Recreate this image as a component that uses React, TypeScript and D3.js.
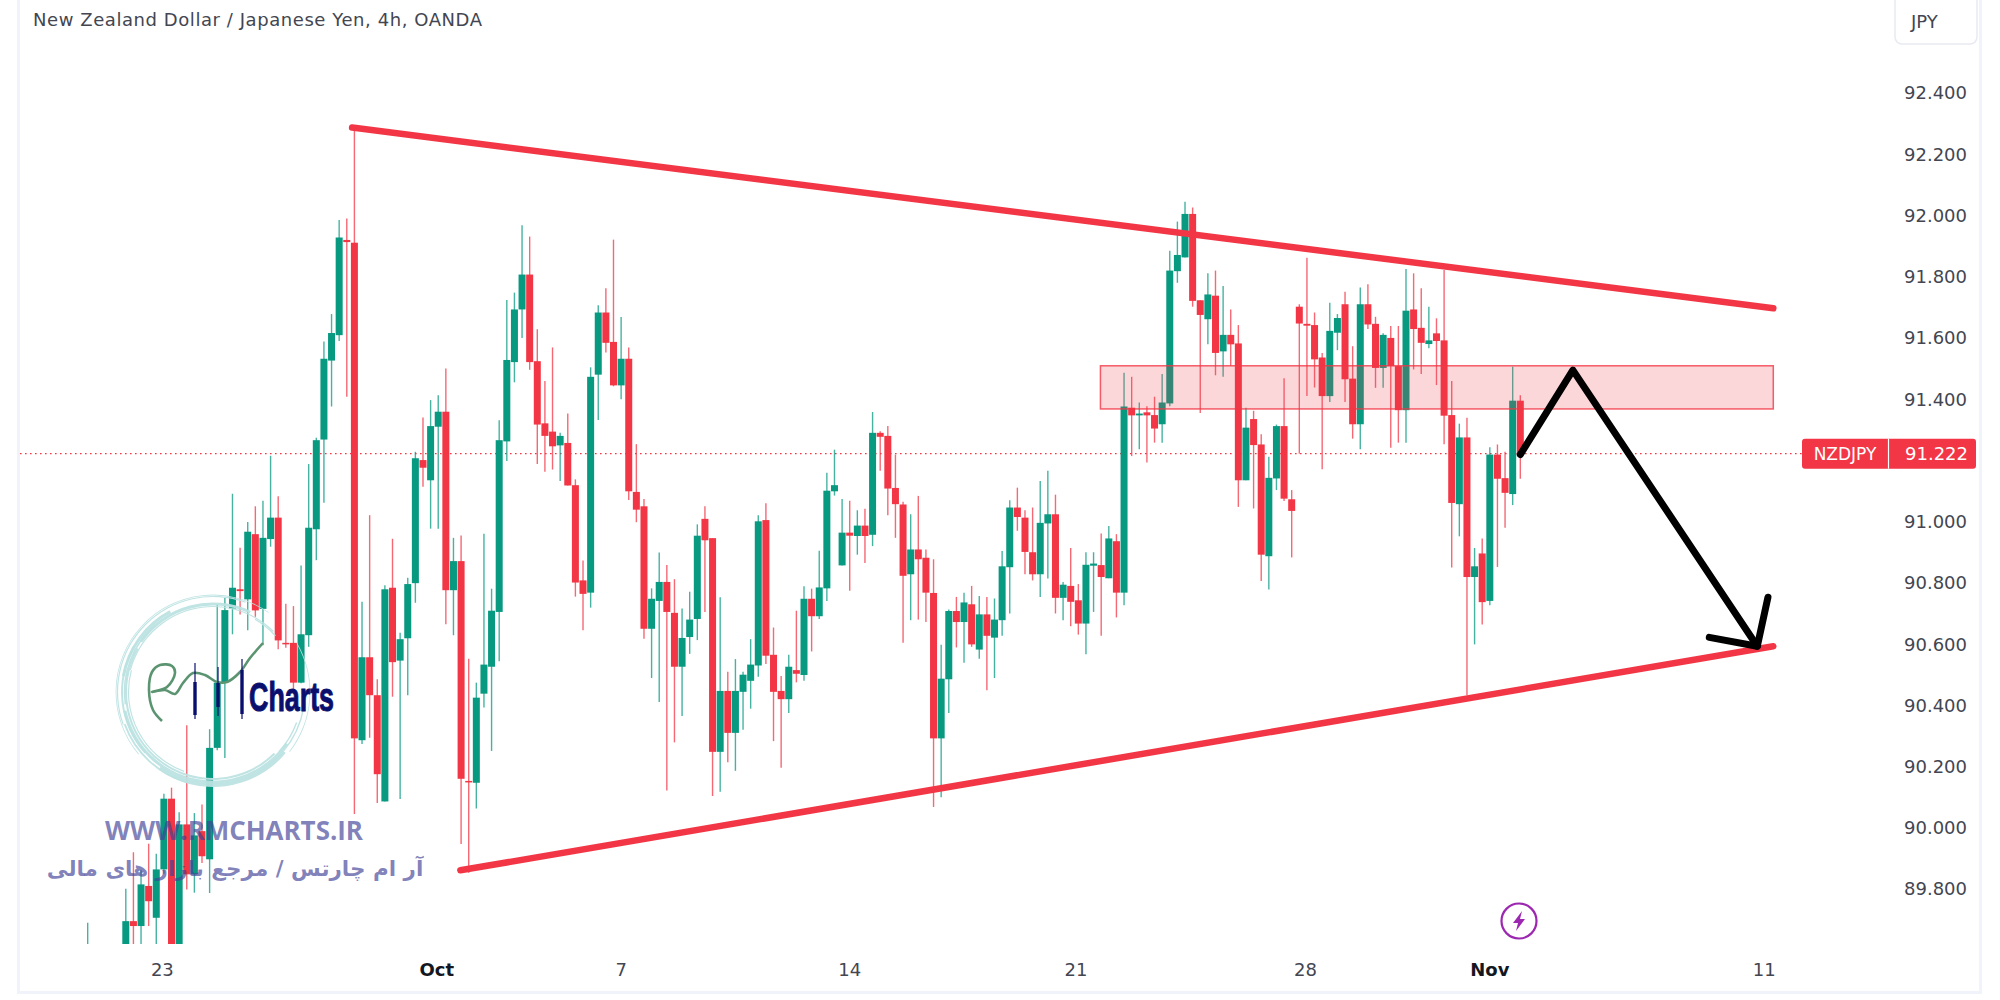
import * as d3 from 'd3';
import React, { useRef, useEffect } from 'react';

const width = 2000;
const height = 1000;

const red = '#F23645';
const green = '#089981';
const axisFont = '"DejaVu Sans", sans-serif';

// 4h candles, oldest first (first few sit below the visible pane)
const opens = [
  89.50,89.40,89.45,89.38,89.42,89.55,89.695,89.679,89.810,89.706,
  89.864,90.095,89.55,90.011,89.848,89.989,89.897,90.261,90.474,90.716,
  90.779,90.746,90.959,90.715,90.943,91.013,90.604,90.604,90.474,90.629,
  90.975,91.268,91.526,91.609,91.920,91.911,90.286,90.557,90.433,90.086,
  90.784,90.546,90.619,90.799,91.201,91.135,91.310,91.359,90.776,90.871,
  90.153,90.147,90.438,90.526,90.705,91.262,91.521,91.693,91.807,91.524,
  91.321,91.294,91.249,91.257,91.119,90.808,90.768,91.480,91.683,91.587,
  91.445,91.532,91.097,91.050,90.650,90.741,90.803,90.702,90.526,90.623,
  90.682,91.009,90.946,90.248,90.447,90.310,90.444,90.480,90.530,91.005,
  90.565,90.447,90.420,90.515,90.499,90.748,90.691,90.782,91.099,90.857,
  90.964,90.953,90.987,90.957,91.290,91.280,91.110,91.056,90.828,90.909,
  90.882,90.767,90.292,90.485,90.708,90.672,90.730,90.582,90.697,90.621,
  90.678,90.851,91.046,91.013,90.900,90.828,90.994,91.024,90.751,90.790,
  90.743,90.667,90.856,90.858,90.815,90.936,90.768,91.372,91.347,91.357,
  91.348,91.318,91.386,91.818,91.863,92.005,91.723,91.661,91.738,91.556,
  91.610,91.582,91.135,91.335,91.252,90.887,91.141,91.312,91.073,91.702,
  91.646,91.642,91.536,91.410,91.617,91.710,91.467,91.318,91.710,91.646,
  91.502,91.600,91.508,91.364,91.693,91.633,91.580,91.615,91.592,91.348,
  91.057,91.275,90.819,90.896,90.741,91.219,91.142,91.090,91.395,
];
const highs = [
  89.69,89.52,89.55,89.50,89.56,89.801,89.920,89.861,89.948,89.915,
  90.111,90.131,90.051,90.335,90.048,90.076,90.322,90.730,90.751,91.091,
  90.915,90.999,91.050,91.068,91.215,91.083,90.732,90.724,90.857,91.188,
  91.274,91.588,91.678,91.985,91.990,92.289,90.738,91.021,90.485,90.792,
  90.944,90.637,90.817,91.228,91.340,91.397,91.413,91.500,90.947,90.955,
  90.552,90.474,90.960,90.781,91.331,91.724,91.748,91.968,91.931,91.628,
  91.459,91.569,91.290,91.353,91.138,90.873,91.504,91.707,91.762,91.921,
  91.668,91.569,91.253,91.074,90.782,90.899,90.858,90.812,90.716,90.771,
  90.991,91.050,90.946,90.753,90.510,90.551,90.510,90.616,91.021,91.060,
  90.654,90.496,90.565,90.709,90.789,90.781,90.905,91.160,91.235,91.074,
  91.068,91.037,91.042,91.358,91.295,91.312,91.219,91.065,91.024,91.084,
  90.909,90.877,90.598,90.713,90.754,90.768,90.790,90.757,90.754,90.749,
  90.904,91.070,91.111,91.037,91.046,91.133,91.166,91.088,90.803,90.914,
  90.796,90.900,90.900,90.961,90.986,90.959,91.486,91.473,91.389,91.377,
  91.408,91.482,91.885,91.980,92.045,92.026,91.723,91.811,91.820,91.770,
  91.693,91.642,91.372,91.362,91.285,91.212,91.317,91.468,91.103,91.710,
  91.862,91.683,91.551,91.715,91.678,91.751,91.573,91.765,91.775,91.669,
  91.615,91.639,91.639,91.825,91.811,91.762,91.702,91.664,91.822,91.459,
  91.320,91.339,90.914,90.945,91.243,91.252,91.228,91.506,91.413,
];
const lows = [
  89.45,89.30,89.35,89.30,89.35,89.50,89.55,89.55,89.679,89.55,
  89.85,89.50,89.50,89.798,89.788,89.885,89.787,90.253,90.228,90.632,
  90.697,90.645,90.689,90.596,90.918,90.583,90.588,90.449,90.472,90.591,
  90.874,91.062,91.376,91.590,91.408,90.045,90.274,90.294,90.081,90.086,
  90.428,90.094,90.433,90.735,91.114,90.977,90.977,90.665,90.629,89.947,
  89.853,90.063,90.393,90.251,90.544,91.198,91.455,91.600,91.496,91.188,
  91.163,91.170,91.133,91.118,90.755,90.645,90.719,91.332,91.552,91.442,
  91.400,91.071,90.998,90.617,90.489,90.411,90.122,90.279,90.365,90.568,
  90.613,90.705,90.104,90.118,90.214,90.186,90.320,90.389,90.493,90.535,
  90.283,90.196,90.375,90.475,90.480,90.576,90.682,90.741,91.085,90.857,
  90.774,90.892,90.865,90.920,91.166,91.021,90.947,90.604,90.678,90.680,
  90.672,90.068,90.100,90.375,90.589,90.539,90.591,90.552,90.449,90.489,
  90.627,90.700,90.970,90.828,90.808,90.754,90.814,90.700,90.678,90.658,
  90.631,90.567,90.705,90.627,90.815,90.687,90.727,91.214,91.236,91.193,
  91.258,91.258,91.377,91.780,91.863,91.702,91.355,91.579,91.478,91.473,
  91.509,91.048,91.135,91.043,90.806,90.778,91.103,91.067,90.883,91.222,
  91.410,91.438,91.171,91.391,91.560,91.391,91.271,91.236,91.629,91.437,
  91.437,91.241,91.258,91.258,91.497,91.482,91.566,91.446,91.253,90.850,
  90.952,90.433,90.599,90.664,90.727,90.852,90.980,91.054,91.140,
];
const closes = [
  89.55,89.45,89.38,89.42,89.50,89.695,89.679,89.815,89.760,89.864,
  90.095,89.55,90.011,89.848,89.975,89.907,90.261,90.474,90.711,90.784,
  90.773,90.967,90.710,90.947,91.013,90.612,90.600,90.474,90.632,90.980,
  91.266,91.532,91.616,91.928,91.913,90.292,90.557,90.433,90.175,90.779,
  90.541,90.616,90.796,91.207,91.176,91.312,91.359,90.776,90.871,90.160,
  90.150,90.425,90.533,90.709,91.266,91.528,91.693,91.807,91.521,91.317,
  91.280,91.246,91.280,91.118,90.801,90.764,91.473,91.683,91.584,91.445,
  91.532,91.099,91.039,90.650,90.748,90.803,90.705,90.526,90.620,90.680,
  90.954,90.939,90.248,90.447,90.310,90.447,90.500,90.533,91.001,90.562,
  90.444,90.420,90.526,90.503,90.748,90.691,90.785,91.101,91.119,90.964,
  90.954,90.987,90.953,91.290,91.277,91.108,91.057,90.823,90.909,90.877,
  90.768,90.292,90.487,90.708,90.672,90.736,90.599,90.697,90.627,90.680,
  90.854,91.046,91.015,90.901,90.828,90.996,91.024,90.751,90.794,90.738,
  90.667,90.859,90.863,90.819,90.945,90.768,91.376,91.347,91.353,91.347,
  91.304,91.389,91.820,91.871,92.005,91.721,91.675,91.742,91.551,91.610,
  91.579,91.135,91.307,91.250,90.892,91.143,91.312,91.075,91.035,91.647,
  91.640,91.530,91.410,91.623,91.665,91.465,91.318,91.710,91.644,91.502,
  91.610,91.508,91.364,91.689,91.629,91.584,91.592,91.590,91.346,91.061,
  91.275,90.819,90.854,90.737,91.219,91.140,91.094,91.395,91.222,
];

const priceTicks = [92.4, 92.2, 92.0, 91.8, 91.6, 91.4, 91.0, 90.8, 90.6, 90.4, 90.2, 90.0, 89.8];
const lastPrice = 91.222;

const dateLabels = ['23', 'Oct', '7', '14', '21', '28', 'Nov', '11'];
const dateBars = [9.8, 45.8, 70, 100, 129.7, 159.8, 184, 220];
const boldDates = ['Oct', 'Nov'];

// drawings, as [bar, price]
const upperTrend: [number, number][] = [[34.7, 92.287], [221.2, 91.697]];
const lowerTrend: [number, number][] = [[48.9, 89.861], [221.2, 90.593]];
const zoneBars = [132.9, 221.2];
const zonePrices = [91.509, 91.368];
const pathPoints: [number, number][] = [[188, 91.219], [194.9, 91.495], [219.1, 90.593]];
const arrowHead: [number, number][] = [[212.8, 90.622], [219.1, 90.593], [220.5, 90.753]];

// watermark pen line and its three little candles
const signature: [number, number][] = [
  [162, 721], [153, 710], [149, 690], [152, 672], [160, 665], [172, 666], [175, 673], [167, 687],
  [152, 692], [165, 690], [175, 694], [183, 683], [193, 673], [205, 675], [217, 682], [227, 682],
  [240, 672], [250, 658], [263, 643],
];
const logoCandles = [
  { x: 195, wick: [663, 719], body: [682, 715] },
  { x: 218, wick: [667, 716], body: [683, 707] },
  { x: 242, wick: [659, 719], body: [670, 714] },
];
// r, thickness, from, to (degrees, clockwise from 12 o'clock)
const rings: [number, number, number, number][] = [
  [97, 0.8, -130, 35], [97, 0.8, 60, 128], [95.5, 1.2, -110, 20], [94, 1.8, 195, 250],
  [91, 3, -80, -28], [88, 3, -55, 25], [85.5, 1.2, -75, 45], [84, 1.4, 30, 48],
  [93, 4, 130, 215], [90, 3, 125, 258], [87, 2, 135, 300], [84.5, 1.2, 200, 285],
  [91, 2, 228, 300], [88.5, 1.6, 262, 320], [92, 1.4, 100, 130], [89, 1.4, 110, 132],
];

const App = () => {
  const containerRef = useRef<SVGSVGElement>(null);

  useEffect(() => {
    if (!containerRef.current) return;
    const svg = d3.select(containerRef.current);
    svg.selectAll('*').remove();

    const x = d3.scaleLinear().domain([0, 188]).range([87.7, 1520.3]);
    const y = d3.scaleLinear().domain([92.4, 89.8]).range([93, 889]);
    const line = d3.line<[number, number]>().x((d) => x(d[0])).y((d) => y(d[1]));

    svg.append('rect').attr('width', width).attr('height', height).attr('fill', '#fff');

    svg.append('clipPath').attr('id', 'pane')
      .append('rect').attr('x', 20).attr('y', 0).attr('width', 1850).attr('height', 944);

    // frame
    svg.append('path')
      .attr('d', 'M18.5,0V992.5H1980.5V0')
      .attr('fill', 'none')
      .attr('stroke', '#F0F3FA')
      .attr('stroke-width', 3);

    // last price line
    svg.append('line')
      .attr('x1', 20).attr('x2', 1802)
      .attr('y1', y(lastPrice)).attr('y2', y(lastPrice))
      .attr('stroke', red)
      .attr('stroke-width', 1.4)
      .attr('stroke-dasharray', '1.6 3.4');

    // candles
    const candles = svg.append('g').attr('clip-path', 'url(#pane)');
    const bars = candles.selectAll('g').data(d3.range(opens.length)).join('g');
    const color = (i: number) => (closes[i] >= opens[i] ? green : red);
    bars.append('line')
      .attr('x1', (i) => x(i)).attr('x2', (i) => x(i))
      .attr('y1', (i) => y(highs[i])).attr('y2', (i) => y(lows[i]))
      .attr('stroke', color)
      .attr('stroke-opacity', 0.75)
      .attr('stroke-width', 1.4);
    bars.append('rect')
      .attr('x', (i) => x(i) - 3.5)
      .attr('width', 7)
      .attr('y', (i) => y(Math.max(opens[i], closes[i])))
      .attr('height', (i) => Math.max(1.5, Math.abs(y(opens[i]) - y(closes[i]))))
      .attr('fill', color);

    // support / resistance zone
    svg.append('rect')
      .attr('x', x(zoneBars[0]))
      .attr('width', x(zoneBars[1]) - x(zoneBars[0]))
      .attr('y', y(zonePrices[0]))
      .attr('height', y(zonePrices[1]) - y(zonePrices[0]))
      .attr('fill', red)
      .attr('fill-opacity', 0.2)
      .attr('stroke', red)
      .attr('stroke-opacity', 0.8)
      .attr('stroke-width', 1.5);

    [upperTrend, lowerTrend].forEach((t) => {
      svg.append('path')
        .attr('d', line(t))
        .attr('fill', 'none')
        .attr('stroke', red)
        .attr('stroke-width', 6.5)
        .attr('stroke-linecap', 'round');
    });

    [pathPoints, arrowHead].forEach((t) => {
      svg.append('path')
        .attr('d', line(t))
        .attr('fill', 'none')
        .attr('stroke', '#000')
        .attr('stroke-width', 7)
        .attr('stroke-linecap', 'round')
        .attr('stroke-linejoin', 'round');
    });

    // price axis
    svg.append('g')
      .selectAll('text')
      .data(priceTicks)
      .join('text')
      .attr('x', 1967)
      .attr('y', (d) => y(d))
      .attr('dy', '0.36em')
      .attr('text-anchor', 'end')
      .attr('font-family', axisFont)
      .attr('font-size', 18)
      .attr('fill', '#434651')
      .text((d) => d3.format('.3f')(d));

    // time axis
    svg.append('g')
      .selectAll('text')
      .data(dateLabels)
      .join('text')
      .attr('x', (_, i) => x(dateBars[i]))
      .attr('y', 976)
      .attr('text-anchor', 'middle')
      .attr('font-family', axisFont)
      .attr('font-size', 18)
      .attr('font-weight', (d) => (boldDates.includes(d) ? 700 : 400))
      .attr('fill', (d) => (boldDates.includes(d) ? '#131722' : '#434651'))
      .text((d) => d);

    svg.append('text')
      .attr('x', 33)
      .attr('y', 26)
      .attr('font-family', axisFont)
      .attr('font-size', 18)
      .attr('textLength', 449)
      .attr('fill', '#434651')
      .text('New Zealand Dollar / Japanese Yen, 4h, OANDA');

    // currency button
    svg.append('rect')
      .attr('x', 1895).attr('y', -6).attr('width', 82).attr('height', 50).attr('rx', 7)
      .attr('fill', '#fff').attr('stroke', '#E8EAF1').attr('stroke-width', 1.5);
    svg.append('text')
      .attr('x', 1911).attr('y', 28)
      .attr('font-family', axisFont).attr('font-size', 18).attr('fill', '#434651')
      .text('JPY');

    // last price label
    const py = y(lastPrice);
    svg.append('rect')
      .attr('x', 1802).attr('y', py - 15).attr('width', 174).attr('height', 30).attr('rx', 3)
      .attr('fill', red);
    svg.append('line')
      .attr('x1', 1888.5).attr('x2', 1888.5).attr('y1', py - 15).attr('y2', py + 15)
      .attr('stroke', '#fff').attr('stroke-width', 1.2);
    svg.append('text')
      .attr('x', 1845).attr('y', py).attr('dy', '0.36em').attr('text-anchor', 'middle')
      .attr('font-family', axisFont).attr('font-size', 17).attr('fill', '#fff')
      .text('NZDJPY');
    svg.append('text')
      .attr('x', 1968).attr('y', py).attr('dy', '0.36em').attr('text-anchor', 'end')
      .attr('font-family', axisFont).attr('font-size', 18).attr('fill', '#fff')
      .text(d3.format('.3f')(lastPrice));

    // lightning marker
    const bolt = svg.append('g').attr('transform', 'translate(1519,921)');
    bolt.append('circle').attr('r', 17.5).attr('fill', '#fff').attr('stroke', '#9C27B0').attr('stroke-width', 2.2);
    bolt.append('path').attr('d', 'M3,-10L-6,2H-1L-3,10L6,-2H1Z').attr('fill', '#9C27B0');

    // watermark
    const logo = svg.append('g');
    const arc = d3.arc<[number, number, number, number]>()
      .innerRadius((d) => d[0] - d[1] / 2)
      .outerRadius((d) => d[0] + d[1] / 2)
      .startAngle((d) => (d[2] * Math.PI) / 180)
      .endAngle((d) => (d[3] * Math.PI) / 180);
    logo.append('g')
      .attr('transform', 'translate(213,692)')
      .selectAll('path')
      .data(rings)
      .join('path')
      .attr('d', arc)
      .attr('fill', '#BCE3E2')
      .attr('fill-opacity', 0.95);
    logo.append('path')
      .attr('d', d3.line().curve(d3.curveCatmullRom)(signature))
      .attr('fill', 'none')
      .attr('stroke', '#5B9470')
      .attr('stroke-width', 2.6);
    logoCandles.forEach((c) => {
      logo.append('line')
        .attr('x1', c.x).attr('x2', c.x).attr('y1', c.wick[0]).attr('y2', c.wick[1])
        .attr('stroke', '#0A0F6E').attr('stroke-width', 1.2);
      logo.append('rect')
        .attr('x', c.x - 1.7).attr('width', 3.4).attr('y', c.body[0]).attr('height', c.body[1] - c.body[0])
        .attr('fill', '#0A0F6E');
    });
    logo.append('text')
      .attr('x', 249).attr('y', 711)
      .attr('font-family', '"Liberation Sans Narrow", "Liberation Sans", sans-serif')
      .attr('font-weight', 700)
      .attr('font-size', 40)
      .attr('textLength', 85)
      .attr('lengthAdjust', 'spacingAndGlyphs')
      .attr('fill', '#0A0F6E')
      .attr('stroke', '#0A0F6E')
      .attr('stroke-width', 1)
      .text('Charts');

    svg.append('text')
      .attr('x', 105).attr('y', 840)
      .attr('font-family', '"Open Sans", sans-serif')
      .attr('font-weight', 700)
      .attr('font-size', 26)
      .attr('textLength', 258)
      .attr('fill', '#3F4397')
      .attr('fill-opacity', 0.66)
      .text('WWW.RMCHARTS.IR');

    svg.append('text')
      .attr('x', 235).attr('y', 876)
      .attr('text-anchor', 'middle')
      .attr('direction', 'rtl')
      .attr('font-family', '"DejaVu Sans", sans-serif')
      .attr('font-weight', 700)
      .attr('font-size', 21.5)
      .attr('fill', '#3F4397')
      .attr('fill-opacity', 0.66)
      .text('آر ام چارتس / مرجع بازار های مالی');
  }, []);

  return (
    <svg
      ref={containerRef}
      width={width}
      height={height}
      style={{ position: 'absolute', left: 0, top: 0 }}
    />
  );
};

export default App;
